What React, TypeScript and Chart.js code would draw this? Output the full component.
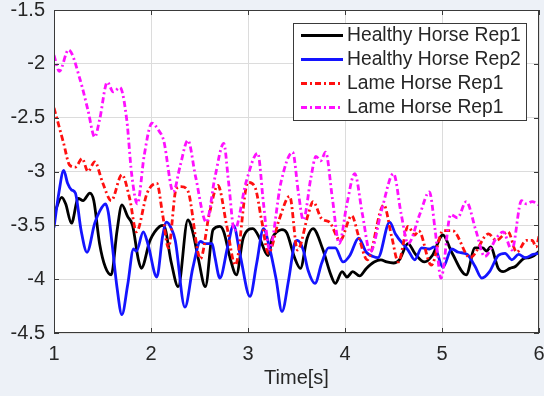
import React, { useEffect, useRef } from "react";
import { Chart, registerables } from "chart.js";

Chart.register(...registerables);

// ---- Data (time in s, signal value) ----
const healthy1T = [1.00, 1.08, 1.12, 1.18, 1.25, 1.30, 1.37, 1.41, 1.47, 1.53, 1.59, 1.65, 1.70, 1.76, 1.81, 1.87, 1.90, 1.99, 2.09, 2.13, 2.21, 2.28, 2.38, 2.43, 2.49, 2.56, 2.64, 2.71, 2.75, 2.82, 2.88, 2.95, 3.05, 3.12, 3.18, 3.21, 3.25, 3.30, 3.35, 3.40, 3.48, 3.54, 3.61, 3.67, 3.77, 3.85, 3.90, 3.97, 4.02, 4.08, 4.15, 4.22, 4.30, 4.37, 4.43, 4.50, 4.56, 4.65, 4.72, 4.82, 4.90, 5.01, 5.10, 5.25, 5.34, 5.42, 5.46, 5.50, 5.58, 5.63, 5.70, 5.76, 5.84, 5.90, 5.95, 6.00];
const healthy1V = [-3.40, -3.24, -3.30, -3.48, -3.25, -3.27, -3.20, -3.27, -3.67, -3.89, -3.96, -3.55, -3.31, -3.42, -3.50, -3.82, -3.90, -3.64, -3.51, -3.50, -3.85, -4.07, -3.45, -3.56, -3.82, -4.07, -3.54, -3.51, -3.56, -3.82, -3.96, -3.62, -3.53, -3.62, -3.75, -3.78, -3.62, -3.56, -3.54, -3.57, -3.80, -3.90, -3.62, -3.53, -3.72, -3.95, -4.04, -3.93, -3.98, -3.93, -3.97, -3.90, -3.84, -3.82, -3.84, -3.85, -3.82, -3.67, -3.76, -3.84, -3.78, -3.59, -3.75, -3.96, -3.71, -3.71, -3.74, -3.70, -3.90, -3.93, -3.90, -3.88, -3.81, -3.80, -3.78, -3.74];

const healthy2T = [1.00, 1.05, 1.10, 1.14, 1.18, 1.22, 1.28, 1.34, 1.42, 1.47, 1.53, 1.56, 1.60, 1.65, 1.70, 1.76, 1.82, 1.85, 1.92, 1.97, 2.06, 2.12, 2.16, 2.21, 2.25, 2.35, 2.43, 2.51, 2.56, 2.63, 2.66, 2.71, 2.79, 2.85, 2.92, 3.02, 3.09, 3.16, 3.22, 3.29, 3.35, 3.42, 3.48, 3.51, 3.57, 3.62, 3.69, 3.76, 3.83, 3.90, 3.98, 4.05, 4.14, 4.22, 4.29, 4.34, 4.46, 4.52, 4.65, 4.72, 4.79, 4.87, 4.92, 5.01, 5.10, 5.17, 5.26, 5.34, 5.41, 5.49, 5.58, 5.65, 5.72, 5.79, 5.86, 5.94, 6.00];
const healthy2V = [-3.52, -3.20, -2.99, -3.11, -3.17, -3.20, -3.55, -3.75, -3.48, -3.37, -3.30, -3.38, -3.68, -4.08, -4.33, -4.05, -3.72, -3.74, -3.56, -3.68, -3.98, -3.60, -3.47, -3.53, -3.64, -4.26, -3.90, -3.65, -3.67, -3.67, -3.80, -3.99, -3.70, -3.50, -3.78, -4.16, -3.85, -3.53, -3.70, -4.00, -4.30, -4.00, -3.67, -3.64, -3.73, -3.92, -4.04, -3.85, -3.71, -3.71, -3.84, -3.78, -3.62, -3.75, -3.79, -3.80, -3.47, -3.58, -3.73, -3.82, -3.71, -3.72, -3.70, -3.89, -3.72, -3.75, -3.77, -3.88, -3.99, -3.93, -3.78, -3.76, -3.82, -3.77, -3.80, -3.77, -3.76];

const lame1T = [1.00, 1.10, 1.16, 1.22, 1.29, 1.35, 1.42, 1.50, 1.59, 1.70, 1.78, 1.85, 1.96, 2.06, 2.12, 2.18, 2.26, 2.31, 2.38, 2.51, 2.60, 2.69, 2.78, 2.87, 3.00, 3.07, 3.14, 3.21, 3.32, 3.43, 3.51, 3.62, 3.67, 3.76, 3.84, 3.95, 4.07, 4.14, 4.23, 4.40, 4.48, 4.55, 4.65, 4.72, 4.76, 4.89, 5.01, 5.11, 5.29, 5.48, 5.56, 5.68, 5.77, 5.87, 5.93, 5.97, 6.00];
const lame1V = [-2.41, -2.74, -2.94, -2.96, -2.88, -3.00, -2.91, -3.10, -3.27, -3.03, -3.25, -3.56, -3.20, -3.11, -3.40, -3.71, -3.16, -3.14, -3.18, -3.81, -3.40, -3.13, -3.50, -3.87, -3.10, -3.14, -3.45, -3.76, -3.45, -3.23, -3.73, -3.40, -3.28, -3.44, -3.47, -3.64, -3.41, -3.60, -3.82, -3.31, -3.60, -3.84, -3.51, -3.59, -3.55, -3.87, -3.55, -3.55, -3.80, -3.58, -3.64, -3.56, -3.75, -3.64, -3.64, -3.70, -3.60];

const lame2T = [1.00, 1.055, 1.15, 1.27, 1.35, 1.42, 1.47, 1.55, 1.61, 1.68, 1.75, 1.80, 1.86, 1.93, 2.01, 2.08, 2.13, 2.23, 2.30, 2.38, 2.46, 2.57, 2.66, 2.75, 2.80, 2.86, 2.98, 3.10, 3.16, 3.22, 3.34, 3.46, 3.52, 3.57, 3.65, 3.70, 3.75, 3.80, 3.87, 3.94, 4.02, 4.10, 4.18, 4.26, 4.38, 4.50, 4.58, 4.65, 4.77, 4.87, 4.93, 4.99, 5.09, 5.16, 5.25, 5.35, 5.44, 5.56, 5.63, 5.72, 5.82, 5.87, 5.93, 6.00];
const lame2V = [-1.92, -2.07, -1.87, -2.15, -2.43, -2.68, -2.52, -2.17, -2.26, -2.22, -2.52, -3.02, -3.30, -2.85, -2.55, -2.62, -2.71, -3.19, -2.95, -2.71, -3.05, -3.47, -3.05, -2.74, -3.10, -3.55, -3.10, -2.83, -3.30, -3.72, -3.10, -2.82, -3.20, -3.45, -3.05, -2.86, -2.90, -2.82, -3.25, -3.67, -3.30, -3.02, -3.40, -3.75, -3.35, -3.02, -3.40, -3.67, -3.40, -3.19, -3.55, -3.99, -3.40, -3.43, -3.28, -3.55, -3.79, -3.62, -3.56, -3.73, -3.27, -3.30, -3.28, -3.31];

const seriesLabels = ["Healthy Horse Rep1", "Healthy Horse Rep2", "Lame Horse Rep1", "Lame Horse Rep1"];
const seriesColors = ["#000000", "#1414ff", "#ff1010", "#ff10ff"];
const xTitle = "Time[s]";
const xMin = 1, xMax = 6, xStep = 1;
const yMin = -4.5, yMax = -1.5, yStep = 0.5;

const BG = "#edf1f7";
const TEXT = "#262626";
const FONT = "'Liberation Sans', Arial, sans-serif";
const DASH = [6, 3, 2, 3];
const LW = 2.8;

function pts(t: number[], v: number[]) {
  return t.map((x, i) => ({ x, y: v[i] }));
}

function fmt(v: any) {
  return String(Number(Number(v).toFixed(2)));
}

function zeroPad(s: any) {
  s.paddingTop = 0;
  s.paddingBottom = 0;
  s.paddingLeft = 0;
  s.paddingRight = 0;
}

export default function App() {
  const ref = useRef<HTMLCanvasElement | null>(null);

  useEffect(() => {
    document.body.style.margin = "0";
    document.body.style.background = BG;
    const canvas = ref.current!;

    const framePlugin = {
      id: "frame",
      beforeDraw(chart: any) {
        const { ctx, chartArea: a } = chart;
        ctx.save();
        ctx.fillStyle = BG;
        ctx.fillRect(0, 0, chart.width, chart.height);
        ctx.fillStyle = "#ffffff";
        ctx.fillRect(a.left, a.top, a.right - a.left, a.bottom - a.top);
        ctx.restore();
      },
      afterDatasetsDraw(chart: any) {
        const { ctx, chartArea: a, scales } = chart;
        ctx.save();
        ctx.strokeStyle = "#3a3a3a";
        ctx.lineWidth = 1;
        ctx.strokeRect(Math.round(a.left) + 0.5, Math.round(a.top) + 0.5, Math.round(a.right - a.left) - 1, Math.round(a.bottom - a.top) - 1);
        const tl = 5;
        ctx.beginPath();
        scales.x.ticks.forEach((t: any) => {
          const px = Math.round(scales.x.getPixelForValue(t.value)) + 0.5;
          ctx.moveTo(px, a.bottom); ctx.lineTo(px, a.bottom - tl);
          ctx.moveTo(px, a.top); ctx.lineTo(px, a.top + tl);
        });
        scales.y.ticks.forEach((t: any) => {
          const py = Math.round(scales.y.getPixelForValue(t.value)) + 0.5;
          ctx.moveTo(a.left, py); ctx.lineTo(a.left + tl, py);
          ctx.moveTo(a.right, py); ctx.lineTo(a.right - tl, py);
        });
        ctx.stroke();
        ctx.restore();
      },
      afterDraw(chart: any) {
        const { ctx } = chart;
        ctx.save();
        const bx = 293.5, by = 23.5, bw = 233, bh = 97;
        ctx.fillStyle = "#ffffff";
        ctx.fillRect(bx, by, bw, bh);
        ctx.strokeStyle = "#3a3a3a";
        ctx.lineWidth = 1;
        ctx.strokeRect(bx, by, bw, bh);
        chart.data.datasets.forEach((ds: any, i: number) => {
          const y = 35.5 + i * 24;
          ctx.beginPath();
          ctx.strokeStyle = ds.borderColor;
          ctx.lineWidth = LW;
          ctx.setLineDash(ds.borderDash || []);
          ctx.moveTo(301, y);
          ctx.lineTo(343, y);
          ctx.stroke();
          ctx.setLineDash([]);
          ctx.fillStyle = TEXT;
          ctx.font = `19.3px ${FONT}`;
          ctx.textBaseline = "middle";
          ctx.textAlign = "left";
          ctx.fillText(ds.label, 347, y);
        });
        ctx.restore();
      },
    };

    const series = [
      pts(healthy1T, healthy1V),
      pts(healthy2T, healthy2V),
      pts(lame1T, lame1V),
      pts(lame2T, lame2V),
    ];

    const chart = new Chart(canvas, {
      type: "line",
      data: {
        datasets: series.map((d, i) => ({
          label: seriesLabels[i],
          data: d,
          borderColor: seriesColors[i],
          backgroundColor: seriesColors[i],
          borderWidth: LW,
          borderDash: i >= 2 ? DASH : [],
          pointRadius: 0,
          cubicInterpolationMode: "monotone" as const,
          fill: false,
          order: 4 - i,
        })),
      },
      options: {
        animation: false,
        responsive: false,
        devicePixelRatio: 1,
        layout: { padding: { left: 0, top: 10, right: 5, bottom: 0 } },
        plugins: {
          legend: { display: false },
          tooltip: { enabled: false },
        },
        scales: {
          x: {
            type: "linear",
            min: xMin,
            max: xMax,
            ticks: {
              stepSize: xStep,
              color: TEXT,
              font: { family: FONT, size: 20, lineHeight: 1 },
              padding: 11,
              maxRotation: 0,
              callback: fmt,
            },
            grid: { color: "#dcdcdc", drawTicks: false },
            border: { display: false },
            title: {
              display: true,
              text: xTitle,
              color: TEXT,
              font: { family: FONT, size: 20 },
              padding: { top: 0, bottom: 6 },
            },
            afterFit: (s: any) => { s.height = 63; zeroPad(s); },
          },
          y: {
            min: yMin,
            max: yMax,
            ticks: {
              stepSize: yStep,
              color: TEXT,
              font: { family: FONT, size: 20, lineHeight: 1 },
              padding: 9,
              callback: fmt,
            },
            grid: { color: "#dcdcdc", drawTicks: false },
            border: { display: false },
            afterFit: (s: any) => { s.width = 54; zeroPad(s); },
          },
        },
      },
      plugins: [framePlugin],
    });

    return () => chart.destroy();
  }, []);

  return (
    <div style={{ width: 544, height: 396, background: BG }}>
      <canvas ref={ref} width={544} height={396} style={{ display: "block" }} />
    </div>
  );
}
